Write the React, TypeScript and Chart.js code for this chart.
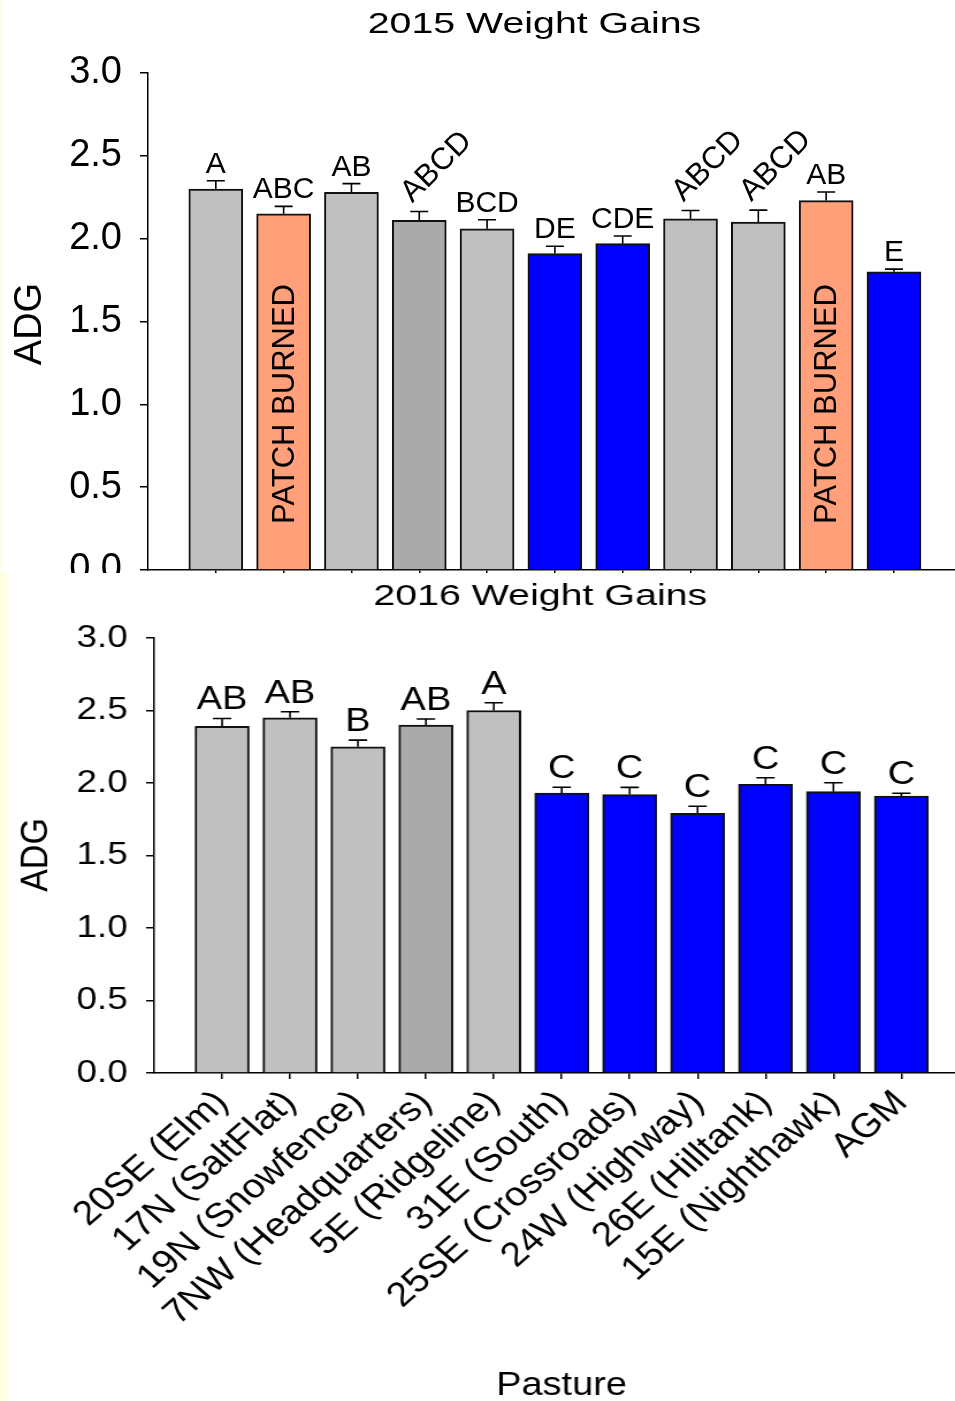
import React, { useEffect, useRef } from "react";
import { Chart, registerables } from "chart.js";

Chart.register(...registerables);

// ---------- data ----------
const pastures = [
  "20SE (Elm)",
  "17N (SaltFlat)",
  "19N (Snowfence)",
  "7NW (Headquarters)",
  "5E (Ridgeline)",
  "31E (South)",
  "25SE (Crossroads)",
  "24W (Highway)",
  "26E (Hilltank)",
  "15E (Nighthawk)",
  "AGM",
];

const adg2015 = [2.3, 2.15, 2.28, 2.11, 2.06, 1.91, 1.97, 2.12, 2.1, 2.23, 1.8];
const err2015 = [0.05, 0.045, 0.052, 0.054, 0.054, 0.044, 0.046, 0.05, 0.072, 0.052, 0.016];
const letters2015 = ["A", "ABC", "AB", "ABCD", "BCD", "DE", "CDE", "ABCD", "ABCD", "AB", "E"];
const slanted2015 = [false, false, false, true, false, false, false, true, true, false, false];
const burned2015 = [false, true, false, false, false, false, false, false, false, true, false];

const adg2016 = [2.39, 2.45, 2.25, 2.4, 2.5, 1.93, 1.92, 1.79, 1.99, 1.94, 1.91];
const err2016 = [0.055, 0.041, 0.046, 0.041, 0.053, 0.041, 0.05, 0.05, 0.046, 0.062, 0.019];
const letters2016 = ["AB", "AB", "B", "AB", "A", "C", "C", "C", "C", "C", "C"];

const yTickStep = 0.5;
const yMax = 3;

// ---------- styles ----------
const GRAY = "#C0C0C0";
const DARK = "#AAAAAA";
const SALMON = "#FFA07A";
const BLUE = "#0000FF";
const YELLOW = "#FFFFE4";
const FAMILY = '"Liberation Sans", Arial, Helvetica, sans-serif';

const colors2015 = [GRAY, SALMON, GRAY, DARK, GRAY, BLUE, BLUE, GRAY, GRAY, SALMON, BLUE];
const colors2016 = [GRAY, GRAY, GRAY, DARK, GRAY, BLUE, BLUE, BLUE, BLUE, BLUE, BLUE];

type TextItem = {
  text: string;
  x: number;
  y: number;
  size: number;
  sx?: number;
  rotate?: number;
};

type PanelCfg = {
  width: number;
  height: number;
  stretch: number;
  values: number[];
  errors: number[];
  letters: string[];
  slanted?: boolean[];
  burned?: boolean[];
  colors: string[];
  barThickness: number;
  capHalf: number;
  letterSize: number;
  slantSize: number;
  letterGap: number;
  padTop: number;
  yAxisWidth: number;
  yPadding: number;
  yTickLen: number;
  xAxisHeight: number;
  xMax: number;
  yFont: number;
  showXLabels: boolean;
  xFont: number;
  xPadding: number;
  texts: TextItem[];
};

function drawText(ctx: CanvasRenderingContext2D, t: TextItem) {
  ctx.save();
  ctx.translate(t.x, t.y);
  if (t.rotate) ctx.rotate(t.rotate);
  ctx.scale(t.sx || 1, 1);
  ctx.font = `${t.size}px ${FAMILY}`;
  ctx.fillStyle = "#000";
  ctx.textAlign = "center";
  ctx.textBaseline = "alphabetic";
  ctx.fillText(t.text, 0, 0);
  ctx.restore();
}

function makeAnnot(cfg: PanelCfg) {
  return {
    id: "annot",
    afterDatasetsDraw(chart: any) {
      const ctx: CanvasRenderingContext2D = chart.ctx;
      const xs = chart.scales.x;
      const ys = chart.scales.y;
      ctx.save();
      cfg.values.forEach((v, i) => {
        const cx = xs.getPixelForValue(i + 1);
        const top = ys.getPixelForValue(v);
        const cap = ys.getPixelForValue(v + cfg.errors[i]);
        ctx.strokeStyle = "#000";
        ctx.lineWidth = 1.6;
        ctx.beginPath();
        ctx.moveTo(cx, top);
        ctx.lineTo(cx, cap);
        ctx.moveTo(cx - cfg.capHalf, cap);
        ctx.lineTo(cx + cfg.capHalf, cap);
        ctx.stroke();

        ctx.fillStyle = "#000";
        if (cfg.slanted && cfg.slanted[i]) {
          ctx.save();
          ctx.font = `${cfg.slantSize}px ${FAMILY}`;
          ctx.translate(cx - 7, cap - 8);
          ctx.rotate(-Math.PI / 4);
          ctx.textAlign = "left";
          ctx.textBaseline = "alphabetic";
          ctx.fillText(cfg.letters[i], 0, 0);
          ctx.restore();
        } else {
          ctx.font = `${cfg.letterSize}px ${FAMILY}`;
          ctx.textAlign = "center";
          ctx.textBaseline = "alphabetic";
          ctx.fillText(cfg.letters[i], cx, cap - cfg.letterGap);
        }

        if (cfg.burned && cfg.burned[i]) {
          ctx.save();
          ctx.translate(cx + 10, ys.getPixelForValue(0) - 46);
          ctx.rotate(-Math.PI / 2);
          ctx.font = `31px ${FAMILY}`;
          ctx.textAlign = "left";
          ctx.textBaseline = "alphabetic";
          ctx.fillText("PATCH BURNED", 0, 0);
          ctx.restore();
        }
      });
      ctx.restore();
    },
    afterDraw(chart: any) {
      const ctx: CanvasRenderingContext2D = chart.ctx;
      cfg.texts.forEach((t) => drawText(ctx, t));
    },
  };
}

function Panel({ cfg }: { cfg: PanelCfg }) {
  const ref = useRef<HTMLCanvasElement | null>(null);
  useEffect(() => {
    if (!ref.current) return;
    const chart = new Chart(ref.current, {
      type: "bar",
      data: {
        datasets: [
          {
            data: cfg.values.map((v, i) => ({ x: i + 1, y: v })),
            backgroundColor: cfg.colors,
            borderColor: "#111",
            borderWidth: 2,
            barThickness: cfg.barThickness,
          } as any,
        ],
      },
      options: {
        responsive: false,
        animation: false,
        devicePixelRatio: 1,
        layout: { padding: { top: cfg.padTop, left: 0, right: 0, bottom: 0 } },
        plugins: {
          legend: { display: false },
          tooltip: { enabled: false },
          title: { display: false },
        },
        scales: {
          x: {
            type: "linear",
            min: 0,
            max: cfg.xMax,
            offset: false,
            afterBuildTicks: (s: any) => {
              s.ticks = pastures.map((_, i) => ({ value: i + 1 }));
            },
            afterFit: (s: any) => {
              s.height = cfg.xAxisHeight;
            },
            ticks: {
              autoSkip: false,
              minRotation: 45,
              maxRotation: 45,
              padding: cfg.xPadding,
              color: "#000",
              font: { family: FAMILY, size: cfg.xFont },
              callback: (v: any) => (cfg.showXLabels ? pastures[Number(v) - 1] : ""),
            },
            grid: {
              offset: false,
              drawOnChartArea: false,
              drawTicks: true,
              tickLength: 6,
              color: "#000",
              lineWidth: 1.5,
            },
            border: { display: true, color: "#000", width: 1.5 },
          },
          y: {
            min: 0,
            max: yMax,
            afterFit: (s: any) => {
              s.width = cfg.yAxisWidth;
            },
            ticks: {
              stepSize: yTickStep,
              padding: cfg.yPadding,
              color: "#000",
              font: { family: FAMILY, size: cfg.yFont },
              callback: (v: any) => Number(v).toFixed(1),
            },
            grid: {
              drawOnChartArea: false,
              drawTicks: true,
              tickLength: cfg.yTickLen,
              color: "#000",
              lineWidth: 1.5,
            },
            border: { display: true, color: "#000", width: 1.5 },
          },
        },
      } as any,
      plugins: [makeAnnot(cfg)],
    });
    return () => chart.destroy();
  }, []);
  return (
    <div
      style={{
        width: cfg.width,
        height: cfg.height,
        transform: `scaleX(${cfg.stretch})`,
        transformOrigin: "0 0",
      }}
    >
      <canvas
        ref={ref}
        width={cfg.width}
        height={cfg.height}
        style={{ display: "block", width: cfg.width, height: cfg.height }}
      />
    </div>
  );
}

const topCfg: PanelCfg = {
  width: 955,
  height: 612,
  stretch: 1,
  values: adg2015,
  errors: err2015,
  letters: letters2015,
  slanted: slanted2015,
  burned: burned2015,
  colors: colors2015,
  barThickness: 54,
  capHalf: 9,
  letterSize: 30,
  slantSize: 31,
  letterGap: 8,
  padTop: 73,
  yAxisWidth: 148,
  yPadding: 18,
  yTickLen: 8,
  xAxisHeight: 42,
  xMax: 11.9,
  yFont: 38,
  showXLabels: false,
  xFont: 34,
  xPadding: 4,
  texts: [
    { text: "2015 Weight Gains", x: 534.5, y: 33, size: 30, sx: 1.31 },
    { text: "ADG", x: 41, y: 324, size: 38, rotate: -Math.PI / 2 },
  ],
};

const BOTTOM_W = 830;
const BOTTOM_S = 955 / BOTTOM_W;

const bottomCfg: PanelCfg = {
  width: BOTTOM_W,
  height: 828,
  stretch: BOTTOM_S,
  values: adg2016,
  errors: err2016,
  letters: letters2016,
  colors: colors2016,
  barThickness: 47,
  capHalf: 8,
  letterSize: 33,
  slantSize: 33,
  letterGap: 9,
  padTop: 65,
  yAxisWidth: 134,
  yPadding: 16,
  yTickLen: 7,
  xAxisHeight: 328,
  xMax: 11.79,
  yFont: 32,
  showXLabels: true,
  xFont: 34,
  xPadding: 4,
  texts: [
    { text: "2016 Weight Gains", x: 469.5, y: 32, size: 30, sx: 1.14 },
    { text: "ADG", x: 40.5, y: 282, size: 34, rotate: -Math.PI / 2 },
    { text: "Pasture", x: 488, y: 822, size: 33 },
  ],
};

export default function App() {
  return (
    <div
      style={{
        position: "absolute",
        left: 0,
        top: 0,
        width: 955,
        height: 1401,
        background: "#fff",
        overflow: "hidden",
      }}
    >
      <div style={{ position: "absolute", left: 0, top: 0, width: 2, height: 573, background: YELLOW }} />
      <div style={{ position: "absolute", left: 0, top: 573, width: 7, height: 828, background: YELLOW }} />
      <div style={{ position: "absolute", left: 0, top: 0, width: 955, height: 573, overflow: "hidden" }}>
        <Panel cfg={topCfg} />
      </div>
      <div style={{ position: "absolute", left: 0, top: 573, width: 955, height: 828, overflow: "hidden" }}>
        <Panel cfg={bottomCfg} />
      </div>
    </div>
  );
}
